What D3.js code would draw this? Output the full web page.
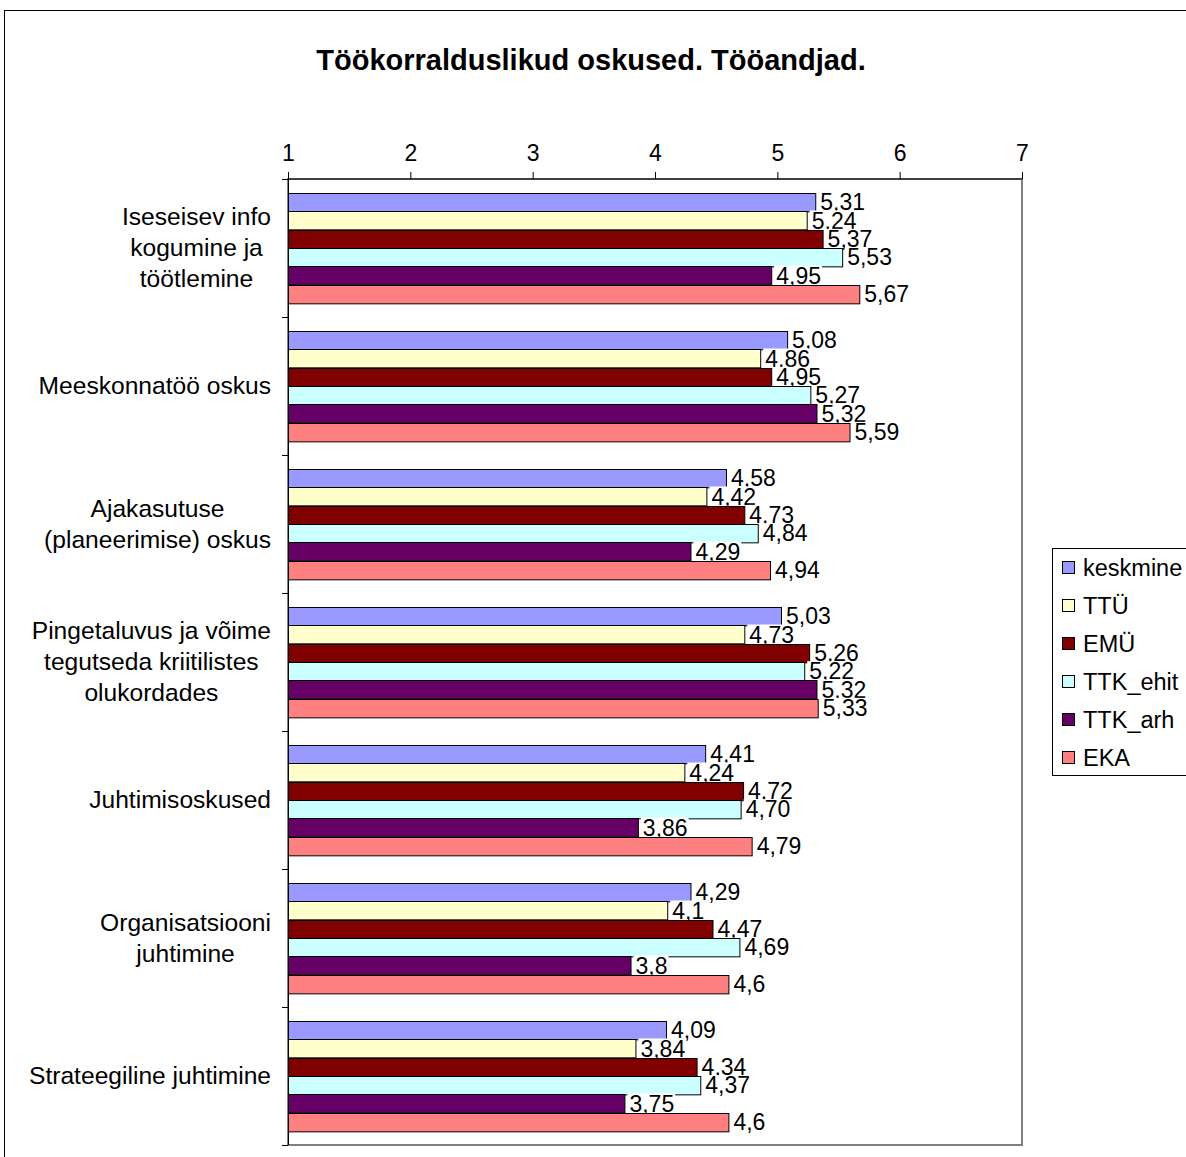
<!DOCTYPE html>
<html><head><meta charset="utf-8">
<script src="https://cdn.jsdelivr.net/npm/d3@7"></script>
<style>body{margin:0;background:#fff;font-family:Arial,"Liberation Sans",sans-serif;}</style>
</head><body>
<svg id="c" width="1186" height="1157"></svg>
<script>
const title = "Töökorralduslikud oskused. Tööandjad.";
const categories = [
  "Iseseisev info kogumine ja töötlemine",
  "Meeskonnatöö oskus",
  "Ajakasutuse (planeerimise) oskus",
  "Pingetaluvus ja võime tegutseda kriitilistes olukordades",
  "Juhtimisoskused",
  "Organisatsiooni juhtimine",
  "Strateegiline juhtimine"
];
const categoryLines = [
  ["Iseseisev info","kogumine ja","töötlemine"],
  ["Meeskonnatöö oskus"],
  ["Ajakasutuse","(planeerimise) oskus"],
  ["Pingetaluvus ja võime","tegutseda kriitilistes","olukordades"],
  ["Juhtimisoskused"],
  ["Organisatsiooni","juhtimine"],
  ["Strateegiline juhtimine"]
];
const seriesNames = ["keskmine","TTÜ","EMÜ","TTK_ehit","TTK_arh","EKA"];
const seriesColors = ["#9999FF","#FFFFCC","#800000","#CCFFFF","#660066","#FF8080"];
const keskmine = [5.31,5.08,4.58,5.03,4.41,4.29,4.09];
const TTU      = [5.24,4.86,4.42,4.73,4.24,4.10,3.84];
const EMU      = [5.37,4.95,4.73,5.26,4.72,4.47,4.34];
const TTK_ehit = [5.53,5.27,4.84,5.22,4.70,4.69,4.37];
const TTK_arh  = [4.95,5.32,4.29,5.32,3.86,3.80,3.75];
const EKA      = [5.67,5.59,4.94,5.33,4.79,4.60,4.60];
const keskmineLabels = ["5,31","5,08","4,58","5,03","4,41","4,29","4,09"];
const TTULabels      = ["5,24","4,86","4,42","4,73","4,24","4,1","3,84"];
const EMULabels      = ["5,37","4,95","4,73","5,26","4,72","4,47","4,34"];
const TTK_ehitLabels = ["5,53","5,27","4,84","5,22","4,70","4,69","4,37"];
const TTK_arhLabels  = ["4,95","5,32","4,29","5,32","3,86","3,8","3,75"];
const EKALabels      = ["5,67","5,59","4,94","5,33","4,79","4,6","4,6"];
const xTicks = [1,2,3,4,5,6,7];

const seriesValues = [keskmine,TTU,EMU,TTK_ehit,TTK_arh,EKA];
const seriesLabels = [keskmineLabels,TTULabels,EMULabels,TTK_ehitLabels,TTK_arhLabels,EKALabels];

(function(){
const svg = d3.select("#c");
const FONT = "Arial, 'Liberation Sans', sans-serif";

// outer chart border
svg.append("rect").attr("x",4.5).attr("y",10.5).attr("width",1200).attr("height",1200)
  .attr("fill","#fff").attr("stroke","#000").attr("stroke-width",1);

// title
svg.append("text").attr("x",591).attr("y",70).attr("text-anchor","middle")
  .attr("font-family",FONT).attr("font-weight","bold").attr("font-size",29).text(title);

const pL=288, pR=1022, pT=179, pB=1145;
const x = d3.scaleLinear().domain([1,7]).range([pL,pR]);
const y0 = d3.scaleBand().domain(categories).range([pT,pB]).padding(0);
const y1 = d3.scaleBand().domain(seriesNames).range([14, y0.bandwidth()-14]).padding(0);

// plot area border (gray)
svg.append("rect").attr("x",pL).attr("y",pT).attr("width",pR-pL).attr("height",pB-pT)
  .attr("fill","none").attr("stroke","#808080").attr("stroke-width",2);

const plot = svg.append("g");
seriesNames.forEach((s,si)=>{
  const g = plot.append("g");
  g.selectAll("rect").data(categories).join("rect")
    .attr("x", x(1)+0.5)
    .attr("y", c=>Math.round(y0(c)+y1(s))+0.5)
    .attr("width", (c,i)=>x(seriesValues[si][i])-x(1))
    .attr("height", y1.bandwidth())
    .attr("fill", seriesColors[si]).attr("stroke","#000").attr("stroke-width",1);
  const lg = g.selectAll("g.lbl").data(categories).join("g").attr("class","lbl")
    .attr("transform",(c,i)=>`translate(${x(seriesValues[si][i])+3},${y0(c)+y1(s)+y1.bandwidth()/2})`);
  lg.append("text").attr("x",2).attr("y",8).attr("font-family",FONT).attr("font-size",23)
    .text((c,i)=>seriesLabels[si][i]);
  lg.each(function(){
    const tt = d3.select(this).select("text");
    const w = tt.node().getComputedTextLength();
    d3.select(this).insert("rect","text").attr("x",0).attr("y",-10).attr("width",w+3).attr("height",20).attr("fill","#fff");
  });
});

// top axis
const ax = svg.append("g").attr("transform",`translate(0,${pT})`)
  .call(d3.axisTop(x).tickValues(xTicks).tickSize(7).tickPadding(20).tickFormat(d3.format("d")));
ax.select(".domain").attr("stroke","#000").attr("d",`M${pL},0H${pR}`);
ax.selectAll(".tick line").attr("stroke","#000");
ax.selectAll(".tick text").attr("font-family",FONT).attr("font-size",23).attr("fill","#000").attr("dy","0.4em");

// left axis line and ticks
svg.append("line").attr("x1",pL+0.5).attr("x2",pL+0.5).attr("y1",pT-7).attr("y2",pB).attr("stroke","#000");
const bounds = categories.map(c=>y0(c)).concat([pB]);
svg.selectAll("line.ct").data(bounds).join("line").attr("class","ct")
  .attr("x1",pL-6).attr("x2",pL).attr("y1",d=>Math.round(d)+0.5).attr("y2",d=>Math.round(d)+0.5).attr("stroke","#000");

// category labels
categories.forEach((c,i)=>{
  const lines = categoryLines[i];
  const g = svg.append("g");
  const lh = 31;
  const cy = y0(c)+y0.bandwidth()/2;
  const ts = lines.map((l,j)=>g.append("text").attr("font-family",FONT).attr("font-size",24.6)
    .attr("text-anchor","middle")
    .attr("y", cy + (j-(lines.length-1)/2)*lh + 8).text(l));
  const W = d3.max(ts, t=>t.node().getComputedTextLength());
  ts.forEach(t=>t.attr("x", 271 - W/2));
});

// legend
svg.append("rect").attr("x",1052.5).attr("y",548.5).attr("width",200).attr("height",227)
  .attr("fill","#fff").attr("stroke","#000");
seriesNames.forEach((s,i)=>{
  const cy = 568 + i*38;
  svg.append("rect").attr("x",1062.5).attr("y",cy-6.5).attr("width",12).attr("height",12)
    .attr("fill",seriesColors[i]).attr("stroke","#000");
  svg.append("text").attr("x",1083).attr("y",cy+8).attr("font-family",FONT).attr("font-size",23.5).text(s);
});
})();
</script>
</body></html>
